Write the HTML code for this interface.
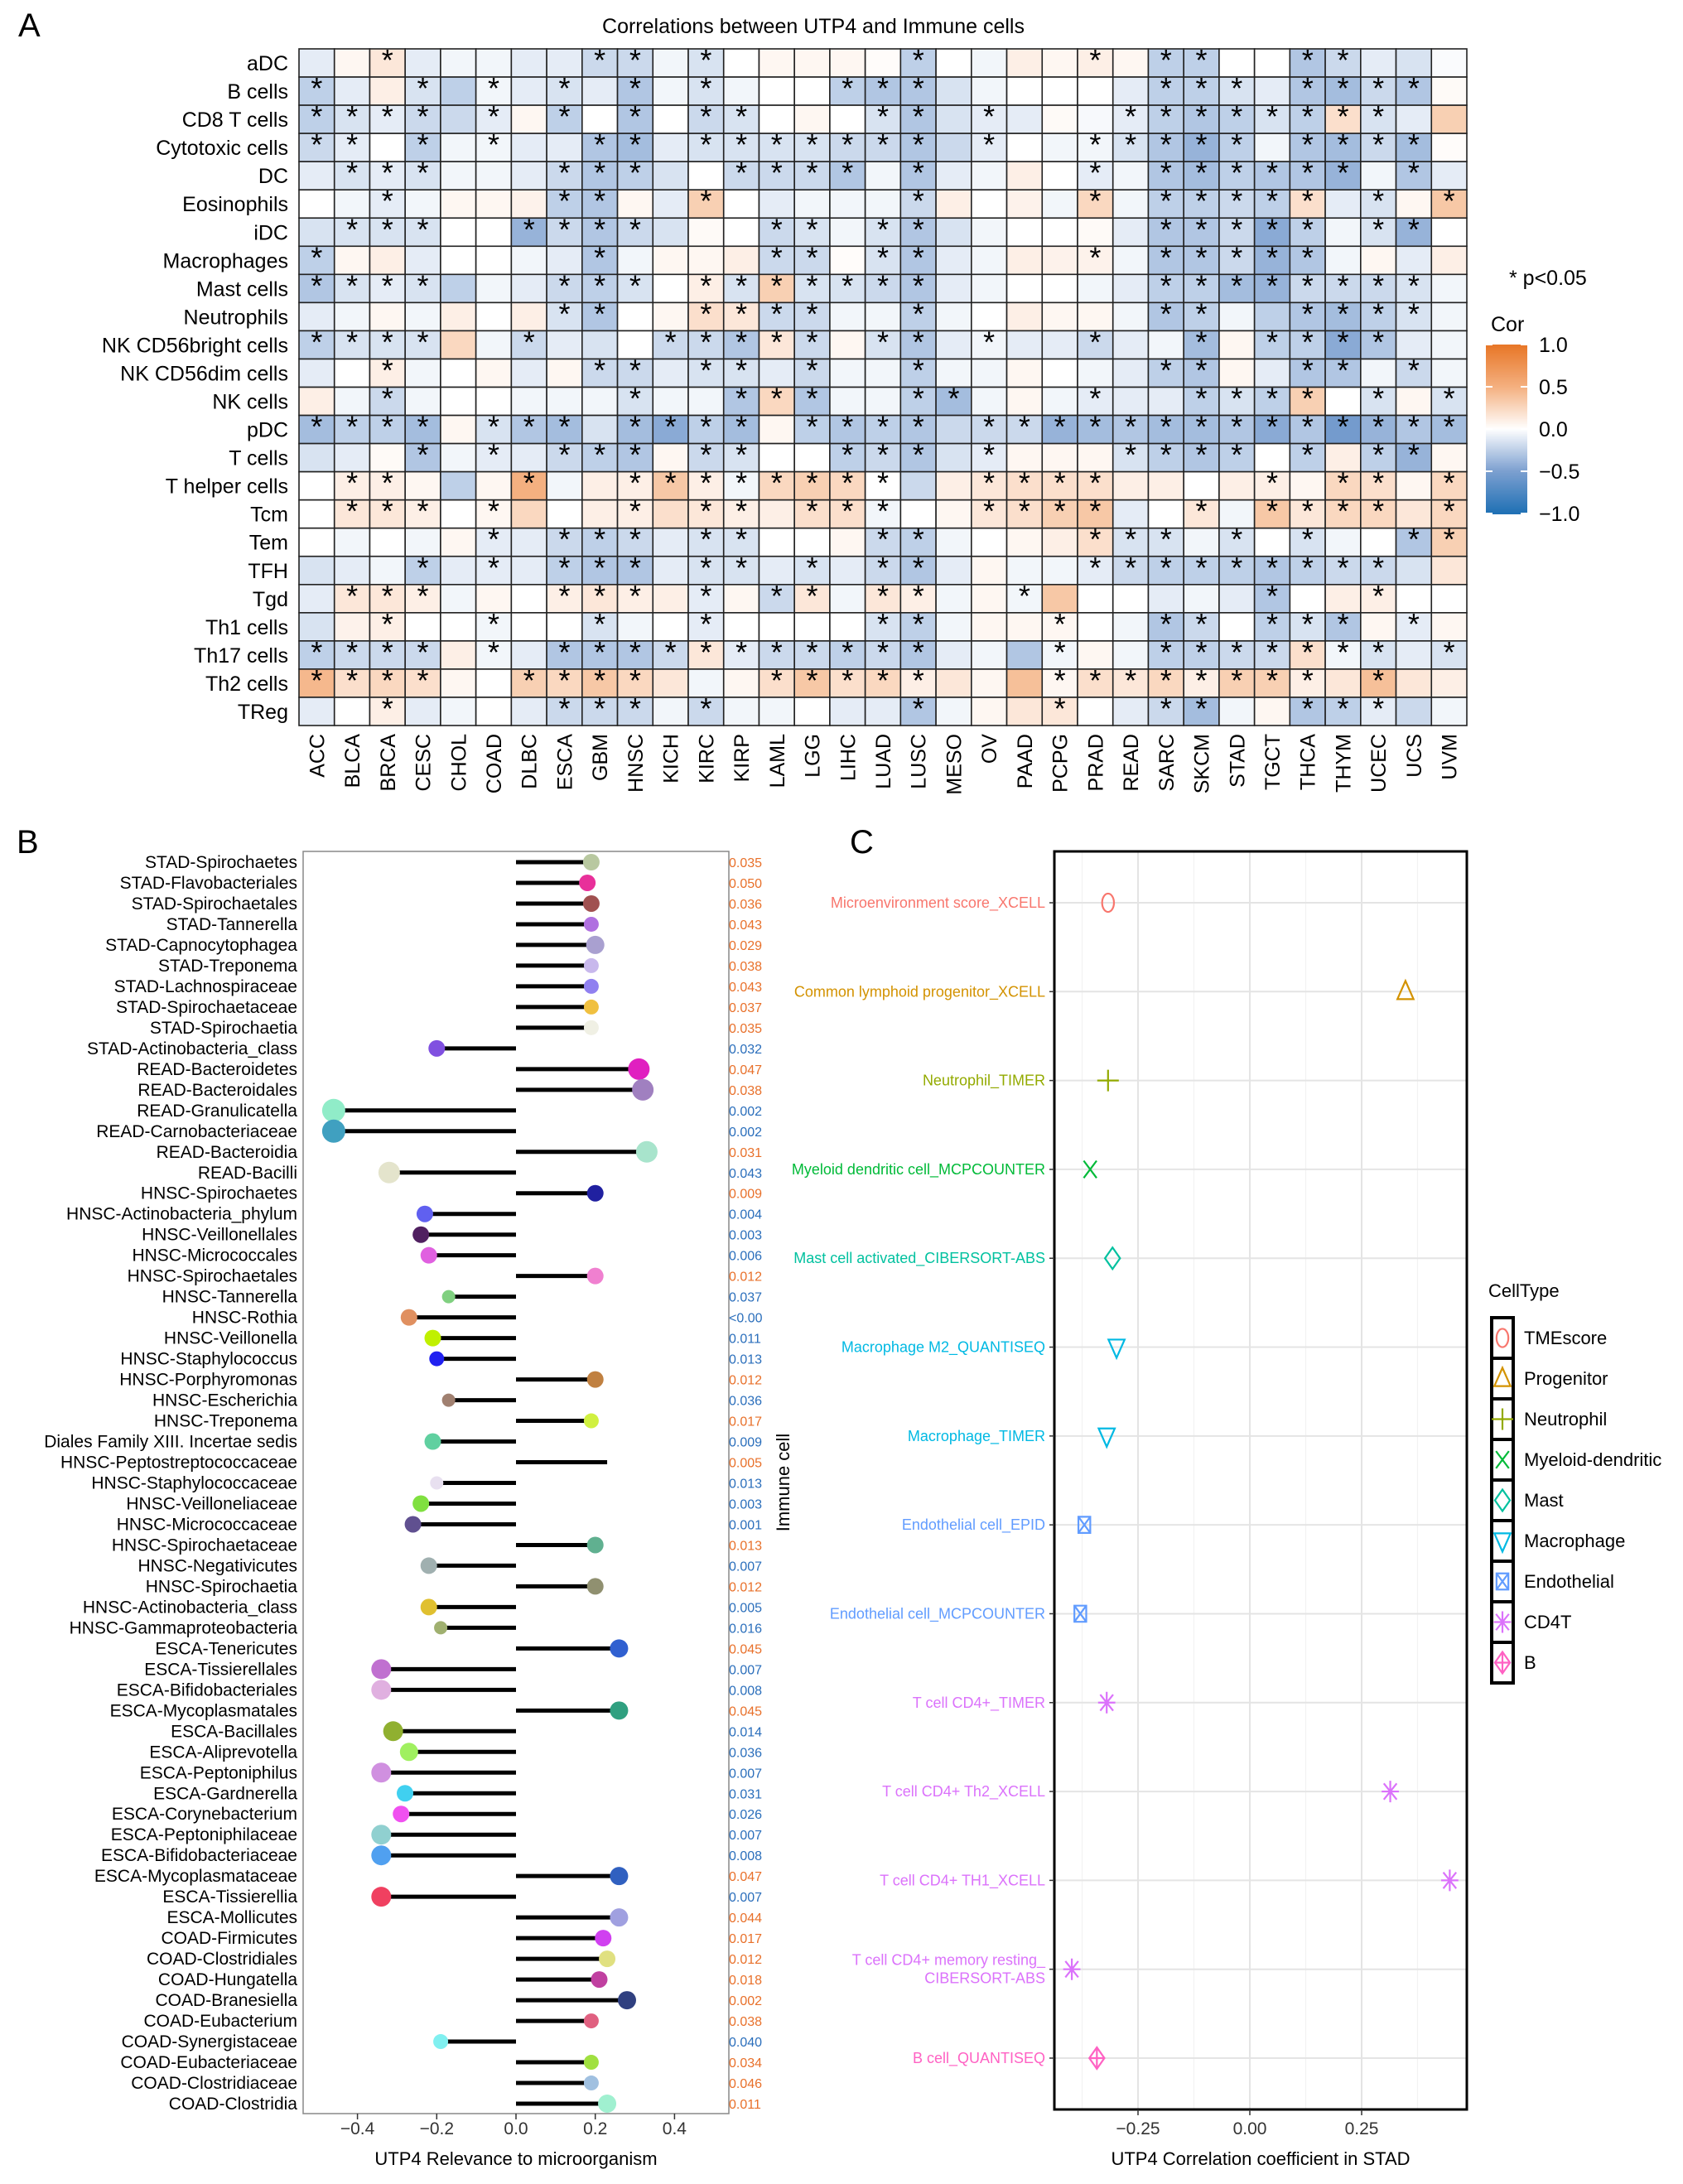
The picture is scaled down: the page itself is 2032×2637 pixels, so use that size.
<!DOCTYPE html>
<html><head><meta charset="utf-8">
<style>
body{margin:0;background:#fff;}
svg text{font-family:"Liberation Sans",Arial,sans-serif;}
</style></head>
<body>
<svg id="fig" width="2032" height="2632" viewBox="0 0 2032 2632" xmlns="http://www.w3.org/2000/svg">
<rect x="0" y="0" width="2032" height="2632" fill="#fff"/>
<text x="22" y="44" font-size="40">A</text>
<text x="982" y="40" font-size="25" text-anchor="middle">Correlations between UTP4 and Immune cells</text>
<text x="20" y="1030" font-size="40">B</text>
<text x="1026" y="1030" font-size="40">C</text>
<g id="heat"></g>
<g id="heatLegend"></g>
<g id="lolli"></g>
<g id="dotc"></g>
</svg>
<script>
// ===== Panel A data =====
const cancers = ["ACC","BLCA","BRCA","CESC","CHOL","COAD","DLBC","ESCA","GBM","HNSC","KICH","KIRC","KIRP","LAML","LGG","LIHC","LUAD","LUSC","MESO","OV","PAAD","PCPG","PRAD","READ","SARC","SKCM","STAD","TGCT","THCA","THYM","UCEC","UCS","UVM"];
const cells = ["aDC","B cells","CD8 T cells","Cytotoxic cells","DC","Eosinophils","iDC","Macrophages","Mast cells","Neutrophils","NK CD56bright cells","NK CD56dim cells","NK cells","pDC","T cells","T helper cells","Tcm","Tem","TFH","Tgd","Th1 cells","Th17 cells","Th2 cells","TReg"];
const corAdc = [-0.1,0.05,0.15,-0.1,-0.05,-0.05,-0.1,-0.1,-0.2,-0.2,-0.05,-0.15,0,0.05,0.05,0.05,0.02,-0.25,0,-0.05,0.1,0.05,0.1,0.05,-0.25,-0.25,0,0,-0.3,-0.2,-0.1,-0.15,-0.02];
const corB = [-0.25,-0.1,0.1,-0.15,-0.25,-0.05,-0.1,-0.15,-0.1,-0.3,-0.05,-0.15,-0.05,0,0,-0.25,-0.3,-0.3,-0.15,-0.05,0,0,0,-0.1,-0.25,-0.25,-0.15,-0.1,-0.3,-0.35,-0.2,-0.3,0.03];
const corCd8 = [-0.25,-0.15,-0.1,-0.2,-0.2,-0.1,0.05,-0.25,0,-0.3,0,-0.2,-0.15,0,0.05,0,-0.15,-0.3,-0.15,-0.1,-0.1,0.03,-0.03,-0.1,-0.25,-0.3,-0.25,-0.15,-0.25,0.2,-0.15,-0.1,0.3];
const corCyto = [-0.2,-0.1,0,-0.25,-0.05,-0.05,-0.1,-0.1,-0.3,-0.35,-0.1,-0.15,-0.15,-0.15,-0.15,-0.2,-0.2,-0.3,-0.2,-0.1,0,-0.05,-0.05,-0.15,-0.3,-0.4,-0.25,-0.05,-0.3,-0.35,-0.2,-0.35,0.02];
const corDc = [-0.1,-0.15,-0.1,-0.15,-0.05,-0.05,-0.1,-0.2,-0.3,-0.25,-0.15,0,-0.2,-0.2,-0.2,-0.3,-0.05,-0.3,-0.1,-0.05,0.1,0,-0.1,-0.05,-0.3,-0.35,-0.25,-0.3,-0.3,-0.4,-0.05,-0.3,-0.1];
const corEos = [0,-0.05,-0.1,-0.05,0.05,0.05,0.08,-0.25,-0.3,0.05,-0.1,0.3,0,-0.1,-0.05,-0.05,-0.05,-0.2,0.1,0,0.08,-0.05,0.25,-0.05,-0.25,-0.25,-0.2,-0.25,0.2,-0.1,-0.15,0.05,0.35];
const corIdc = [-0.15,-0.15,-0.15,-0.15,0,0,-0.4,-0.2,-0.3,-0.2,-0.15,0.03,0,-0.2,-0.15,-0.05,-0.15,-0.3,-0.15,-0.05,0,0,0.03,-0.1,-0.3,-0.3,-0.2,-0.45,-0.25,-0.05,-0.15,-0.4,0];
const corMac = [-0.25,0.05,0.1,-0.1,0,0,-0.05,-0.1,-0.3,-0.05,0.05,0.05,0.1,-0.2,-0.2,0.02,-0.15,-0.3,-0.1,-0.05,0.1,0.08,0.08,-0.05,-0.3,-0.3,-0.2,-0.4,-0.3,-0.05,0.05,-0.1,0.1];
const corMast = [-0.3,-0.15,-0.1,-0.15,-0.25,-0.05,-0.1,-0.2,-0.25,-0.15,0,0.1,-0.15,0.3,-0.15,-0.15,-0.2,-0.3,-0.1,-0.05,0,0,-0.05,-0.1,-0.25,-0.25,-0.35,-0.4,-0.2,-0.2,-0.2,-0.15,-0.05];
const corNeu = [-0.1,-0.05,0.05,-0.05,0.1,0,0.1,-0.15,-0.3,0,0.05,0.2,0.15,-0.2,-0.2,-0.05,-0.05,-0.25,-0.05,0,0.1,0.05,0.05,-0.05,-0.3,-0.25,-0.05,-0.25,-0.3,-0.35,-0.25,-0.15,-0.05];
const corNkBright = [-0.25,-0.15,-0.15,-0.15,0.25,-0.05,-0.2,-0.1,-0.15,0,-0.2,-0.2,-0.3,0.15,-0.2,0.05,-0.15,-0.3,-0.1,-0.05,-0.1,-0.1,-0.2,-0.1,-0.05,-0.35,0.05,-0.25,-0.25,-0.45,-0.3,-0.1,-0.05];
const corNkDim = [-0.1,0,0.1,-0.05,0,0.05,-0.1,0.05,-0.2,-0.2,-0.1,-0.15,-0.15,-0.1,-0.2,-0.05,-0.05,-0.25,-0.05,-0.05,0.05,0,-0.05,-0.1,-0.25,-0.3,0.05,-0.1,-0.3,-0.3,-0.05,-0.2,-0.05];
const corNk = [0.1,-0.05,-0.2,-0.05,0,0,-0.05,-0.05,-0.05,-0.15,-0.05,-0.05,-0.3,0.25,-0.3,-0.05,-0.05,-0.25,-0.35,-0.05,0.05,-0.05,-0.1,-0.1,-0.1,-0.25,-0.15,-0.25,0.3,0,-0.15,0.05,-0.15];
const corPdc = [-0.35,-0.25,-0.25,-0.35,0.05,-0.15,-0.3,-0.35,-0.15,-0.35,-0.45,-0.25,-0.35,0.05,-0.25,-0.3,-0.25,-0.3,-0.2,-0.2,-0.2,-0.4,-0.35,-0.3,-0.35,-0.35,-0.3,-0.45,-0.3,-0.55,-0.4,-0.3,-0.35];
const corT = [-0.15,-0.1,0.03,-0.3,-0.05,-0.1,-0.1,-0.2,-0.25,-0.3,0.05,-0.2,-0.15,0,0,-0.25,-0.2,-0.3,-0.15,-0.1,0.05,0.05,0.05,-0.15,-0.25,-0.3,-0.25,0,-0.25,0.1,-0.25,-0.4,0.05];
const corTh = [0,0.1,0.1,0.05,-0.25,0.05,0.5,-0.05,0.1,0.1,0.35,0.1,-0.05,0.25,0.3,0.25,0,-0.2,0.1,0.15,0.2,0.2,0.2,0.1,0.1,0,0.1,0.1,0.05,0.25,0.2,0.05,0.25];
const corTcm = [0,0.15,0.15,0.1,0,0.05,0.25,0,0.1,0.1,0.2,0.15,0.1,0.1,0.2,0.2,-0.05,0,0.05,0.15,0.2,0.3,0.35,-0.1,0,0.15,-0.05,0.35,0.15,0.25,0.25,0.15,0.25];
const corTem = [0,-0.05,0,-0.05,0.05,-0.1,-0.1,-0.2,-0.25,-0.2,-0.1,-0.15,-0.15,0,0,0.05,-0.2,-0.25,-0.05,0,0.05,0.1,0.2,-0.15,-0.15,-0.05,-0.15,0,-0.15,-0.05,0,-0.3,0.3];
const corTfh = [-0.15,-0.1,-0.05,-0.25,-0.1,-0.1,-0.1,-0.25,-0.3,-0.3,-0.1,-0.15,-0.15,-0.1,-0.15,-0.1,-0.2,-0.3,-0.1,0.05,-0.05,-0.05,-0.1,-0.2,-0.25,-0.25,-0.25,-0.3,-0.25,-0.2,-0.2,-0.15,0.15];
const corTgd = [-0.1,0.15,0.15,0.1,-0.05,0.05,0,0.1,0.15,0.1,0.1,-0.1,0.05,-0.2,0.15,-0.05,0.15,0.1,-0.05,0.05,-0.05,0.35,0,0,-0.1,-0.05,-0.1,-0.3,0,0.1,0.1,0,0];
const corTh1 = [-0.15,0.08,0.1,0,0,-0.05,0,0,-0.15,-0.05,0,-0.1,0,0,0,0,-0.15,-0.25,-0.05,0.05,0.05,0.05,0,-0.05,-0.3,-0.2,0,-0.25,-0.15,-0.3,0.05,-0.1,0.05];
const corTh17 = [-0.25,-0.2,-0.2,-0.2,0.1,-0.05,-0.1,-0.3,-0.3,-0.3,-0.2,0.15,-0.1,-0.2,-0.2,-0.25,-0.2,-0.3,-0.1,-0.05,-0.3,-0.05,0.05,-0.05,-0.25,-0.25,-0.2,-0.2,0.2,-0.05,-0.15,-0.1,-0.15];
const corTh2 = [0.45,0.2,0.25,0.2,0.05,0,0.3,0.25,0.35,0.25,0.15,-0.05,0.05,0.2,0.35,0.2,0.25,0.1,0.15,0.05,0.4,0.05,0.2,0.15,0.25,0.1,0.3,0.3,0.1,0.15,0.4,0.15,0.1];
const corTreg = [-0.1,0,0.1,-0.1,-0.05,0,-0.1,-0.2,-0.2,-0.2,-0.05,-0.2,-0.05,-0.05,0,-0.1,-0.1,-0.3,-0.05,0.05,0.15,0.15,0,-0.1,-0.2,-0.35,-0.05,0.05,-0.3,-0.25,-0.1,-0.2,-0.05];
const corRows = [corAdc,corB,corCd8,corCyto,corDc,corEos,corIdc,corMac,corMast,corNeu,corNkBright,corNkDim,corNk,corPdc,corT,corTh,corTcm,corTem,corTfh,corTgd,corTh1,corTh17,corTh2,corTreg];
const sigRows = [
"001000001101000001000010110011000",
"100101010101000111000000111011110",
"111101010101100011010001111111100",
"110101001101111111010011111011110",
"011100011100111101000010111111010",
"001000011001000001000010111110101",
"011100111100011011000000111110110",
"100000001000011011000010111110000",
"111100011101111111000000111111110",
"000000011001111001000000110011110",
"111100100011111011010010010111100",
"001000001101101001000000110011010",
"001000000100111001100010011110101",
"111101110111101111011111111111111",
"000101011101100111010001111010110",
"011000100111111110011110000101101",
"011101000101101110011110010111101",
"000001011101100011000011101010011",
"000101011101101011000011111111100",
"011100011101011011001000000100100",
"001001001001000011000100110111010",
"111101011111111111000100111111101",
"111100111100011111000111111110100",
"001000011101000001000100110011100"];

// ===== Panel B data =====
const microbes = ["STAD-Spirochaetes","STAD-Flavobacteriales","STAD-Spirochaetales","STAD-Tannerella","STAD-Capnocytophagea","STAD-Treponema","STAD-Lachnospiraceae","STAD-Spirochaetaceae","STAD-Spirochaetia","STAD-Actinobacteria_class","READ-Bacteroidetes","READ-Bacteroidales","READ-Granulicatella","READ-Carnobacteriaceae","READ-Bacteroidia","READ-Bacilli","HNSC-Spirochaetes","HNSC-Actinobacteria_phylum","HNSC-Veillonellales","HNSC-Micrococcales","HNSC-Spirochaetales","HNSC-Tannerella","HNSC-Rothia","HNSC-Veillonella","HNSC-Staphylococcus","HNSC-Porphyromonas","HNSC-Escherichia","HNSC-Treponema","Diales Family XIII. Incertae sedis","HNSC-Peptostreptococcaceae","HNSC-Staphylococcaceae","HNSC-Veilloneliaceae","HNSC-Micrococcaceae","HNSC-Spirochaetaceae","HNSC-Negativicutes","HNSC-Spirochaetia","HNSC-Actinobacteria_class","HNSC-Gammaproteobacteria","ESCA-Tenericutes","ESCA-Tissierellales","ESCA-Bifidobacteriales","ESCA-Mycoplasmatales","ESCA-Bacillales","ESCA-Aliprevotella","ESCA-Peptoniphilus","ESCA-Gardnerella","ESCA-Corynebacterium","ESCA-Peptoniphilaceae","ESCA-Bifidobacteriaceae","ESCA-Mycoplasmataceae","ESCA-Tissierellia","ESCA-Mollicutes","COAD-Firmicutes","COAD-Clostridiales","COAD-Hungatella","COAD-Branesiella","COAD-Eubacterium","COAD-Synergistaceae","COAD-Eubacteriaceae","COAD-Clostridiaceae","COAD-Clostridia"];
const relevance = [0.19,0.18,0.19,0.19,0.2,0.19,0.19,0.19,0.19,-0.2,0.31,0.32,-0.46,-0.46,0.33,-0.32,0.2,-0.23,-0.24,-0.22,0.2,-0.17,-0.27,-0.21,-0.2,0.2,-0.17,0.19,-0.21,0.23,-0.2,-0.24,-0.26,0.2,-0.22,0.2,-0.22,-0.19,0.26,-0.34,-0.34,0.26,-0.31,-0.27,-0.34,-0.28,-0.29,-0.34,-0.34,0.26,-0.34,0.26,0.22,0.23,0.21,0.28,0.19,-0.19,0.19,0.19,0.23];
const pvals = ["0.035","0.050","0.036","0.043","0.029","0.038","0.043","0.037","0.035","0.032","0.047","0.038","0.002","0.002","0.031","0.043","0.009","0.004","0.003","0.006","0.012","0.037","<0.00","0.011","0.013","0.012","0.036","0.017","0.009","0.005","0.013","0.003","0.001","0.013","0.007","0.012","0.005","0.016","0.045","0.007","0.008","0.045","0.014","0.036","0.007","0.031","0.026","0.007","0.008","0.047","0.007","0.044","0.017","0.012","0.018","0.002","0.038","0.040","0.034","0.046","0.011"];
const dotColors = ["#b8c8a0","#e8309a","#a05050","#b070e0","#a9a0d0","#c8b8ec","#9080f0","#f0c040","#f0f0e4","#8050e0","#e020c0","#a080c0","#90ecc8","#40a0c0","#a8e4cc","#e4e4cc","#2020a0","#6060f0","#502060","#e060e0","#f080d0","#80d080","#e09060","#c0f000","#2020f0","#c08040","#a08070","#d0f040","#60d0a0","none","#e8e0f0","#80e040","#605090","#60b090","#a0b0b0","#909070","#e0c030","#a0b070","#3060d0","#c070d0","#e0b0e0","#30a080","#90b030","#a0f060","#d090e0","#40d0f0","#f050f0","#90d0d0","#50a0f0","#3060c0","#f04060","#a0a0e0","#d040f0","#e0e080","#c040a0","#304080","#e06080","#80f0f0","#a0e040","#a0c0e0","#a0f0d0"];
const dotSizes = [10,10,10,9,11,9,9,9,9,10,13,13,14,14,13,13,10,10,10,10,10,8,10,10,9,10,8,9,10,0,8,10,10,10,10,10,10,8,11,12,12,11,12,11,12,10,10,12,12,11,12,11,10,10,10,11,9,9,9,9,11];
const xTicksB = [-0.4,-0.2,0.0,0.2,0.4];

// ===== Panel C data =====
const cLabels = ["Microenvironment score_XCELL","Common lymphoid progenitor_XCELL","Neutrophil_TIMER","Myeloid dendritic cell_MCPCOUNTER","Mast cell activated_CIBERSORT-ABS","Macrophage M2_QUANTISEQ","Macrophage_TIMER","Endothelial cell_EPID","Endothelial cell_MCPCOUNTER","T cell CD4+_TIMER","T cell CD4+ Th2_XCELL","T cell CD4+ TH1_XCELL","T cell CD4+ memory resting_|CIBERSORT-ABS","B cell_QUANTISEQ"];
const cCorr = [-0.317,0.348,-0.317,-0.357,-0.307,-0.298,-0.32,-0.37,-0.379,-0.32,0.314,0.447,-0.398,-0.342];
const cType = ["TMEscore","Progenitor","Neutrophil","Myeloid-dendritic","Mast","Macrophage","Macrophage","Endothelial","Endothelial","CD4T","CD4T","CD4T","CD4T","B"];
const typeNames = ["TMEscore","Progenitor","Neutrophil","Myeloid-dendritic","Mast","Macrophage","Endothelial","CD4T","B"];
const typeColors = ["#F8766D","#D39200","#93AA00","#00BA38","#00C19F","#00B9E3","#619CFF","#DB72FB","#FF61C3"];
const xTicksC = [-0.25,0.00,0.25];

const NS="http://www.w3.org/2000/svg";
function mk(tag, attrs, parent, txt){const e=document.createElementNS(NS,tag);for(const k in attrs)e.setAttribute(k,attrs[k]);if(txt!==undefined)e.textContent=txt;parent.appendChild(e);return e;}

function lerp(a,b,t){return a.map((v,i)=>Math.round(v+(b[i]-v)*t));}
function corColor(v){
  const o1=[232,119,40], o5=[244,176,128], w=[255,255,255], b5=[125,160,208], b1=[33,113,181];
  let c;
  if(v>=0){c = v<=0.5? lerp(w,o5,v/0.5): lerp(o5,o1,(v-0.5)/0.5);}
  else {const a=-v; c = a<=0.5? lerp(w,b5,a/0.5): lerp(b5,b1,(a-0.5)/0.5);}
  return "rgb("+c.join(",")+")";
}

// ===== Heatmap =====
(function(){
  const g=document.getElementById('heat');
  const x0=361,x1=1771,y0=59,y1=876;
  const cw=(x1-x0)/cancers.length, ch=(y1-y0)/cells.length;
  const xs=i=>x0+i*cw, ys=j=>y0+j*ch;
  corRows.forEach((row,j)=>{
    row.forEach((v,i)=>{
      const r=mk('rect',{x:xs(i),y:ys(j),width:cw,height:ch,fill:corColor(v),stroke:"#222","stroke-width":1.6},g);
      
      
      if(sigRows[j][i]==='1'){
        const s=mk('text',{x:xs(i)+cw/2,y:ys(j)+26,"font-size":36,"text-anchor":"middle"},g,"*");
        
        
      }
    });
    const t=mk('text',{x:348,y:ys(j)+ch/2+9,"font-size":25,"text-anchor":"end"},g,cells[j]);
    
    
  });
  cancers.forEach((c,i)=>{
    const cx=xs(i)+cw/2+9;
    const t=mk('text',{x:cx,y:886,"font-size":25,"text-anchor":"end",transform:"rotate(-90 "+cx+" 886)"},g,c);
    
    
  });
  const L=document.getElementById('heatLegend');
  const t1=mk('text',{x:1822,y:344,"font-size":25},L,"* p<0.05");
  
  
  const t2=mk('text',{x:1800,y:400,"font-size":25},L,"Cor");
  
  
  const by0=416,by1=620,bx=1794,bw=50;
  for(let k=0;k<100;k++){
    const v=1-2*k/99;
    mk('rect',{x:bx,y:by0+k*(by1-by0)/100,width:bw,height:(by1-by0)/100+1,fill:corColor(v)},L);
  }
  [1.0,0.5,0.0,-0.5,-1.0].forEach(v=>{
    const y=by0+(1-v)/2*(by1-by0);
    mk('line',{x1:bx,x2:bx+8,y1:y,y2:y,stroke:"#fff","stroke-width":2},L);
    mk('line',{x1:bx+bw-8,x2:bx+bw,y1:y,y2:y,stroke:"#fff","stroke-width":2},L);
    const t=mk('text',{x:1858,y:y+9,"font-size":25},L,(v<0?"\u2212":"")+Math.abs(v).toFixed(1));
    
    
  });
})();

// ===== Lollipop =====
(function(){
  const g=document.getElementById('lolli');
  const bx0=366,bx1=880,by0=1028,by1=2552;
  const xz=623, k=95.7/0.2;
  const X=v=>xz+v*k;
  const r0=1041, dr=(2540-1041)/(microbes.length-1);
  const Y=i=>r0+i*dr;
  const fr=mk('rect',{x:bx0,y:by0,width:bx1-bx0,height:by1-by0,fill:"none",stroke:"#888","stroke-width":1.5},g);
  
  
  microbes.forEach((m,i)=>{
    const y=Y(i);
    const ln=mk('line',{x1:X(0),x2:X(relevance[i]),y1:y,y2:y,stroke:"#000","stroke-width":5},g);
    
    
    if(dotColors[i]!=="none"){
      const c=mk('circle',{cx:X(relevance[i]),cy:y,r:dotSizes[i],fill:dotColors[i]},g);
      
      
    }
    const t=mk('text',{x:359,y:y+7,"font-size":21,"text-anchor":"end"},g,m);
    
    
    const p=mk('text',{x:880,y:y+6,"font-size":16,fill:relevance[i]>=0?"#E8702A":"#2A6EBB"},g,pvals[i]);
    
    
  });
  xTicksB.forEach(v=>{
    mk('line',{x1:X(v),x2:X(v),y1:by1,y2:by1+7,stroke:"#333","stroke-width":1.5},g);
    const t=mk('text',{x:X(v),y:2577,"font-size":21,"text-anchor":"middle",fill:"#333"},g,(v<0?"\u2212":"")+Math.abs(v).toFixed(1));
    
    
  });
  const xt=mk('text',{x:623,y:2614,"font-size":22,"text-anchor":"middle"},g,"UTP4 Relevance to microorganism");
  
  
  const yt=mk('text',{x:953,y:1790,"font-size":22,"text-anchor":"middle",transform:"rotate(-90 953 1790)"},g,"Immune cell");
  
  
})();

// ===== Dot chart C =====
function drawShape(g,type,cx,cy,col,s){
  const a={fill:"none",stroke:col,"stroke-width":2.2};
  let e;
  switch(type){
    case "TMEscore": e=mk('ellipse',Object.assign({cx:cx,cy:cy,rx:s*0.55,ry:s*0.85},a),g);break;
    case "Progenitor": e=mk('polygon',Object.assign({points:`${cx},${cy-s} ${cx-s*0.75},${cy+s*0.7} ${cx+s*0.75},${cy+s*0.7}`},a),g);break;
    case "Neutrophil": e=mk('path',Object.assign({d:`M${cx-s} ${cy}H${cx+s}M${cx} ${cy-s}V${cy+s}`},a),g);break;
    case "Myeloid-dendritic": e=mk('path',Object.assign({d:`M${cx-s*0.6} ${cy-s*0.8}L${cx+s*0.6} ${cy+s*0.8}M${cx+s*0.6} ${cy-s*0.8}L${cx-s*0.6} ${cy+s*0.8}`},a),g);break;
    case "Mast": e=mk('polygon',Object.assign({points:`${cx},${cy-s} ${cx+s*0.7},${cy} ${cx},${cy+s} ${cx-s*0.7},${cy}`},a),g);break;
    case "Macrophage": e=mk('polygon',Object.assign({points:`${cx-s*0.75},${cy-s*0.7} ${cx+s*0.75},${cy-s*0.7} ${cx},${cy+s}`},a),g);break;
    case "Endothelial": e=mk('path',Object.assign({d:`M${cx-s*0.55} ${cy-s*0.75}H${cx+s*0.55}V${cy+s*0.75}H${cx-s*0.55}ZM${cx-s*0.55} ${cy-s*0.75}L${cx+s*0.55} ${cy+s*0.75}M${cx+s*0.55} ${cy-s*0.75}L${cx-s*0.55} ${cy+s*0.75}`},a),g);break;
    case "CD4T": e=mk('path',Object.assign({d:`M${cx-s*0.8} ${cy}H${cx+s*0.8}M${cx} ${cy-s}V${cy+s}M${cx-s*0.6} ${cy-s*0.75}L${cx+s*0.6} ${cy+s*0.75}M${cx+s*0.6} ${cy-s*0.75}L${cx-s*0.6} ${cy+s*0.75}`},a),g);break;
    default: e=mk('path',Object.assign({d:`M${cx} ${cy-s}L${cx+s*0.7} ${cy}L${cx} ${cy+s}L${cx-s*0.7} ${cy}ZM${cx-s*0.7} ${cy}H${cx+s*0.7}M${cx} ${cy-s}V${cy+s}`},a),g);
  }
  return e;
}
(function(){
  const g=document.getElementById('dotc');
  const bx0=1273,bx1=1771,by0=1028,by1=2547;
  const xz=1509,k=135/0.25;
  const X=v=>xz+v*k;
  const r0=1090, dr=(2485-1090)/(cLabels.length-1);
  const Y=i=>r0+i*dr;
  [-0.375,-0.125,0.125,0.375].forEach(v=>mk('line',{x1:X(v),x2:X(v),y1:by0,y2:by1,stroke:"#f2f2f2","stroke-width":1.2},g));
  xTicksC.forEach(v=>mk('line',{x1:X(v),x2:X(v),y1:by0,y2:by1,stroke:"#e4e4e4","stroke-width":2},g));
  cLabels.forEach((l,i)=>mk('line',{x1:bx0,x2:bx1,y1:Y(i),y2:Y(i),stroke:"#e4e4e4","stroke-width":2},g));
  const fr=mk('rect',{x:bx0,y:by0,width:bx1-bx0,height:by1-by0,fill:"none",stroke:"#000","stroke-width":3},g);
  
  
  cLabels.forEach((l,i)=>{
    const ti=typeNames.indexOf(cType[i]);
    const col=typeColors[ti];
    const y=Y(i);
    mk('line',{x1:bx0-6,x2:bx0,y1:y,y2:y,stroke:"#333","stroke-width":1.5},g);
    const parts=l.split("|");
    parts.forEach((p,pi)=>{
      const t=mk('text',{x:1262,y:y+6+(pi-(parts.length-1)/2)*22,"font-size":18,"text-anchor":"end",fill:col},g,p);
      
      
    });
    const sh=drawShape(g,cType[i],X(cCorr[i]),y,col,13);
    
    
  });
  xTicksC.forEach(v=>{
    mk('line',{x1:X(v),x2:X(v),y1:by1,y2:by1+7,stroke:"#333","stroke-width":1.5},g);
    const t=mk('text',{x:X(v),y:2577,"font-size":21,"text-anchor":"middle",fill:"#333"},g,(v<0?"\u2212":"")+Math.abs(v).toFixed(2));
    
    
  });
  const xt=mk('text',{x:1522,y:2614,"font-size":22,"text-anchor":"middle"},g,"UTP4 Correlation coefficient in STAD");
  
  
  const lt=mk('text',{x:1797,y:1566,"font-size":22},g,"CellType");
  
  
  typeNames.forEach((n,i)=>{
    const y=1591+i*49;
    mk('rect',{x:1801,y:y,width:26,height:49,fill:"#fff",stroke:"#000","stroke-width":4},g);
    drawShape(g,n,1814,y+24.5,typeColors[i],13);
    const t=mk('text',{x:1840,y:y+32,"font-size":22},g,n);
    
    
  });
})();
</script>
</body></html>
